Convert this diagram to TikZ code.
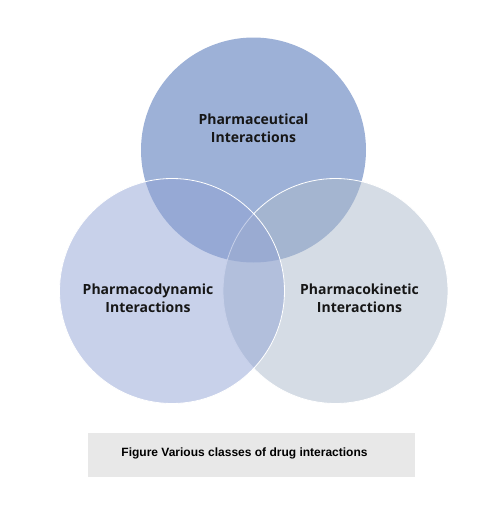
\documentclass[tikz,border=0pt]{standalone}
\usepackage{fontspec}
\setmainfont{Open Sans}
\newfontfamily\capfont{Liberation Sans}
\definecolor{topblue}{HTML}{9DB1D7}
\definecolor{leftblue}{HTML}{91A3D5}
\definecolor{rightgrey}{HTML}{ABB9CB}
\definecolor{capgrey}{HTML}{E8E8E8}
\definecolor{labelink}{HTML}{161616}
\begin{document}
\begin{tikzpicture}[x=1pt,y=-1pt,
    venn/.style={circle, minimum size=225pt, inner sep=0pt, draw=white, line width=0.8pt, fill opacity=0.5},
    vennlabel/.style={align=center, text=labelink, font=\bfseries\fontsize{14}{17.7}\selectfont}]
    \useasboundingbox (0,0) rectangle (499,512);
    % three classes
    \node[venn, fill=topblue, fill opacity=1, draw=none] (pharmaceutical) at (253.5,150) {};
    \node[venn, fill=rightgrey] (kinetic) at (335.5,291) {};
    \node[venn, fill=leftblue] (dynamic) at (172,291) {};
    \node[vennlabel] (pharmaceuticallabel) at (253.5,128) {Pharmaceutical\\Interactions};
    \node[vennlabel] (dynamiclabel) at (148,298) {Pharmacodynamic\\Interactions};
    \node[vennlabel] (kineticlabel) at (359.5,298) {Pharmacokinetic\\Interactions};
    % caption
    \node[fill=capgrey, minimum width=327pt, minimum height=44pt, inner sep=0pt] (capbox) at (251.5,455) {};
    \node[font=\capfont\bfseries\fontsize{12}{14}\selectfont] (caption) at (244.5,453) {Figure Various classes of drug interactions};
\end{tikzpicture}
\end{document}
